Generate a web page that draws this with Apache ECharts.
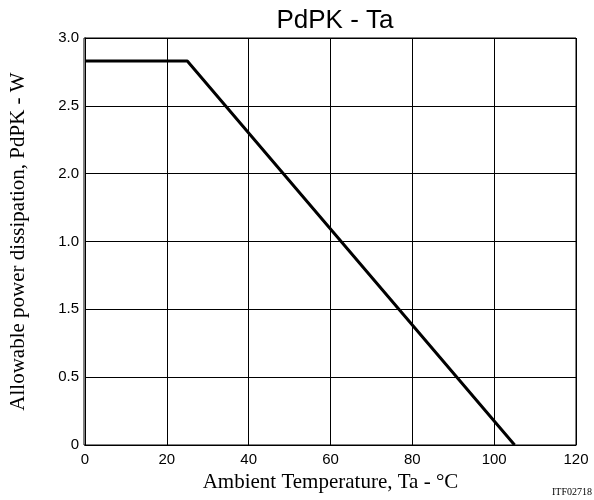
<!DOCTYPE html>
<html><head><meta charset="utf-8">
<script src="https://cdn.jsdelivr.net/npm/echarts@6/dist/echarts.min.js"></script>
<style>html,body{margin:0;padding:0;background:#fff}#c{width:594px;height:500px}</style>
</head><body><div id="c"></div>
<script>
// Data
var temps = [0, 25, 105];
var power = [2.83, 2.83, 0];
var xTicks = ['0', '20', '40', '60', '80', '100', '120'];
var yTickLabels = ['0', '0.5', '1.5', '1.0', '2.0', '2.5', '3.0'];

var chart = echarts.init(document.getElementById('c'));
chart.setOption({
  animation: false,
  backgroundColor: '#fff',
  title: {
    text: 'PdPK - Ta',
    left: 330, top: 3, textAlign: 'center',
    textStyle: { fontFamily: 'Liberation Sans', fontSize: 26, fontWeight: 'normal', color: '#000' }
  },
  grid: { left: 84, right: 18, top: 38, bottom: 55, containLabel: false },
  xAxis: {
    type: 'value', min: 0, max: 120, interval: 20,
    name: 'Ambient Temperature, Ta - °C', nameLocation: 'middle', nameGap: 27,
    nameTextStyle: { fontFamily: 'Liberation Serif', fontSize: 21, color: '#000' },
    axisLine: { show: true, lineStyle: { color: '#000', width: 1 } },
    axisTick: { show: false },
    axisLabel: { fontFamily: 'Liberation Sans', fontSize: 15, color: '#000', margin: 7,
      formatter: function (v) { return xTicks[Math.round(v / 20)]; } },
    splitLine: { show: true, lineStyle: { color: '#000', width: 1 } }
  },
  yAxis: {
    type: 'value', min: 0, max: 3, interval: 0.5,
    name: 'Allowable power dissipation, PdPK - W', nameLocation: 'middle', nameGap: 56,
    nameTextStyle: { fontFamily: 'Liberation Serif', fontSize: 21, color: '#000' },
    axisLine: { show: true, lineStyle: { color: '#000', width: 1 } },
    axisTick: { show: false },
    axisLabel: { fontFamily: 'Liberation Sans', fontSize: 15, color: '#000', margin: 6,
      formatter: function (v) { return yTickLabels[Math.round(v / 0.5)]; } },
    splitLine: { show: true, lineStyle: { color: '#000', width: 1 } }
  },
  series: [{
    type: 'line',
    data: temps.map(function (t, i) { return [t, power[i]]; }),
    showSymbol: false,
    lineStyle: { color: '#000', width: 3 },
    clip: false
  }],
  graphic: [
    { type: 'rect', shape: { x: 84, y: 38, width: 492, height: 407 },
      style: { fill: 'none', stroke: '#000', lineWidth: 1 }, silent: true, z: 10 },
    { type: 'text', left: 552, top: 487,
      style: { text: 'ITF02718', fontFamily: 'Liberation Serif', fontSize: 10, fill: '#000' } }
  ]
});
</script>
</body></html>
